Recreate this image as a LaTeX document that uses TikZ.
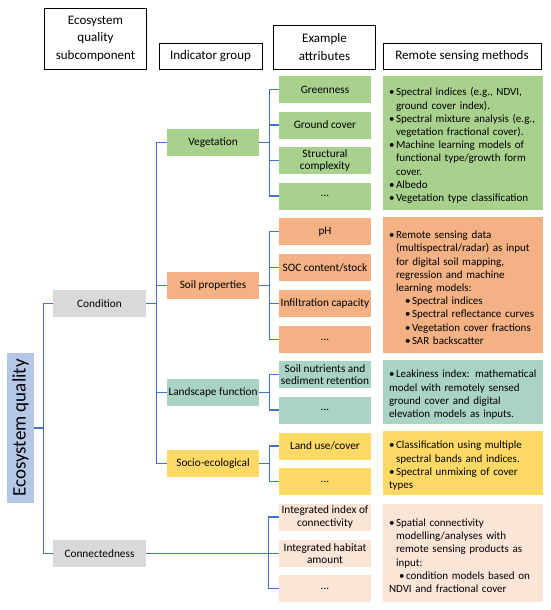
\documentclass[tikz,border=0pt]{standalone}
\usepackage{fontspec}
\setmainfont{Carlito}
\usepackage{graphicx}
\usepackage{tikz}
\definecolor{vegfill}{HTML}{A9D18E}
\definecolor{soilfill}{HTML}{F4B183}
\definecolor{landfill}{HTML}{A9D3C2}
\definecolor{sociofill}{HTML}{FFD966}
\definecolor{connfill}{HTML}{FBE5D6}
\definecolor{subfill}{HTML}{D9D9D9}
\definecolor{eqfill}{HTML}{B4C7E7}
\definecolor{linkblue}{HTML}{4472C4}
% bullet lines for the methods column
\newcommand\bitem[1]{\par\hangindent=7pt\hangafter=1\noindent\makebox[7pt][l]{\textbullet}#1}
\newcommand\bsub[2]{\par\hangindent=\dimexpr#1+7pt\relax\hangafter=1\noindent\hspace*{#1}\makebox[7pt][l]{\textbullet}#2}

\begin{document}
\begin{tikzpicture}[x=1pt,y=-1pt,font=\fontsize{11.3}{12.7}\selectfont,
  head/.style={rectangle,draw=black,line width=0.8pt,fill=white,align=center,inner sep=2pt,font=\fontsize{13}{17.5}\selectfont},
  box/.style={rectangle,inner sep=1pt,minimum width=92pt,minimum height=27pt,align=center},
  rem/.style={rectangle,inner xsep=6pt,inner ysep=2pt,text width=148pt,minimum width=160pt,align=left,font=\fontsize{11}{13.2}\selectfont},
  link/.style={draw=linkblue,line width=1.2pt}]
\useasboundingbox (0,0) rectangle (550,610);
% column heads
\node[head,minimum width=102pt,minimum height=61pt] (hsub) at (95.5,38.5) {Ecosystem\\quality\\subcomponent};
\node[head,minimum width=103pt,minimum height=26pt] (hind) at (210.5,56) {Indicator group};
\node[head,minimum width=102pt,minimum height=44pt] (hattr) at (324.5,47) {Example\\attributes};
\node[head,minimum width=158pt,minimum height=26pt] (hrem) at (462,56) {Remote sensing methods};
% quality and subcomponents
\node[box,fill=eqfill,minimum width=27pt,minimum height=150pt,font=\fontsize{19}{22}\selectfont] (eq) at (20.5,428) {\rotatebox{90}{Ecosystem quality}};
\node[box,fill=subfill,minimum width=93pt] (cond) at (99.5,303.5) {Condition};
\node[box,fill=subfill,minimum width=93pt] (conn) at (99.5,553.5) {Connectedness};
% indicator groups
\node[box,fill=vegfill] (veg) at (213,142.5) {Vegetation};
\node[box,fill=soilfill] (soil) at (213,285.5) {Soil properties};
\node[box,fill=landfill] (land) at (213,392.5) {Landscape function};
\node[box,fill=sociofill] (socio) at (213,463.5) {Socio-ecological};
% attributes
\node[box,fill=vegfill] (green) at (325,89.5) {Greenness};
\node[box,fill=vegfill] (gcov) at (325,125) {Ground cover};
\node[box,fill=vegfill] (struct) at (325,160.5) {Structural\\complexity};
\node[box,fill=vegfill] (vmore) at (325,196) {...};
\node[box,fill=soilfill] (ph) at (325,231.5) {pH};
\node[box,fill=soilfill] (soc) at (325,267.5) {SOC content/stock};
\node[box,fill=soilfill] (infil) at (325,303.5) {Infiltration capacity};
\node[box,fill=soilfill] (smore) at (325,339.5) {...};
\node[box,fill=landfill] (nutr) at (325,374.5) {Soil nutrients and\\sediment retention};
\node[box,fill=landfill] (lmore) at (325,410) {...};
\node[box,fill=sociofill] (luse) at (325,446) {Land use/cover};
\node[box,fill=sociofill] (emore) at (325,481.5) {...};
\node[box,fill=connfill] (iconn) at (325,517) {Integrated index of\\connectivity};
\node[box,fill=connfill] (ihab) at (325,553.5) {Integrated habitat\\amount};
\node[box,fill=connfill] (cmore) at (325,588.5) {...};
% methods
\node[rem,fill=vegfill,minimum height=134pt] (rveg) at (463,143) {\bitem{Spectral indices (e.g., NDVI,\newline ground cover index).}\bitem{Spectral mixture analysis (e.g.,\newline vegetation fractional cover).}\bitem{Machine learning models of\newline functional type/growth form\newline cover.}\bitem{Albedo}\bitem{Vegetation type classification}};
\node[rem,fill=soilfill,minimum height=136pt] (rsoil) at (463,285) {\bitem{Remote sensing data\newline (multispectral/radar) as input\newline for digital soil mapping,\newline regression and machine\newline learning models:}\bsub{16pt}{Spectral indices}\bsub{16pt}{Spectral reflectance curves}\bsub{16pt}{Vegetation cover fractions}\bsub{16pt}{SAR backscatter}};
\node[rem,fill=landfill,minimum height=64pt] (rland) at (463,392) {\bitem{Leakiness index: mathematical\newline model with remotely sensed\newline ground cover and digital\newline elevation models as inputs.}};
\node[rem,fill=sociofill,minimum height=64pt] (rsocio) at (463,463) {\bitem{Classification using multiple\newline spectral bands and indices.}\bitem{Spectral unmixing of cover\newline types}};
\node[rem,fill=connfill,minimum height=98pt] (rconn) at (463,553) {\bitem{Spatial connectivity\newline modelling/analyses with\newline remote sensing products as\newline input:}\bsub{10pt}{condition models based on\newline NDVI and fractional cover}};
% tree lines
\draw[link] (eq.east) -- ++(9,0) coordinate (eqbus);
\draw[link] (eqbus) |- (cond.west);
\draw[link] (eqbus) |- (conn.west);
\draw[link] (cond.east) -- ++(10,0) coordinate (cbus);
\draw[link] (cbus) |- (veg.west);
\draw[link] (cbus) |- (soil.west);
\draw[link] (cbus) |- (land.west);
\draw[link] (cbus) |- (socio.west);
\draw[link] (veg.east) -- ++(10,0) coordinate (vbus);
\draw[link] (vbus) |- (green.west);
\draw[link] (vbus) |- (gcov.west);
\draw[link] (vbus) |- (struct.west);
\draw[link] (vbus) |- (vmore.west);
\draw[link] (soil.east) -- ++(10,0) coordinate (sbus);
\draw[link] (sbus) |- (ph.west);
\draw[link] (sbus) |- (soc.west);
\draw[link] (sbus) |- (infil.west);
\draw[link] (sbus) |- (smore.west);
\draw[link] (land.east) -- ++(10,0) coordinate (lbus);
\draw[link] (lbus) |- (nutr.west);
\draw[link] (lbus) |- (lmore.west);
\draw[link] (socio.east) -- ++(10,0) coordinate (ebus);
\draw[link] (ebus) |- (luse.west);
\draw[link] (ebus) |- (emore.west);
\draw[link] (conn.east) -- (ihab.west) coordinate[pos=0.92] (nbus);
\draw[link] (nbus) |- (iconn.west);
\draw[link] (nbus) |- (cmore.west);
\end{tikzpicture}
\end{document}
